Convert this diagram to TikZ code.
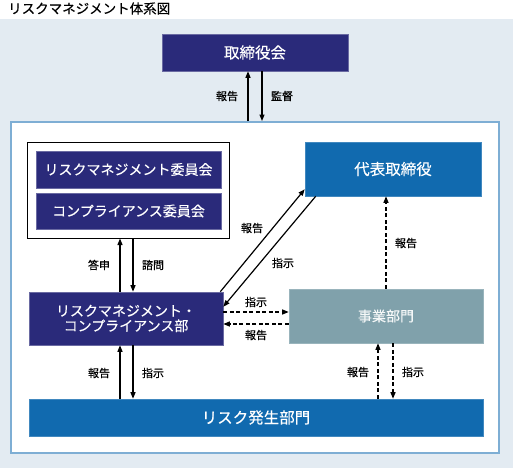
\documentclass[tikz,border=0pt]{standalone}
\usepackage{fontspec}
\setmainfont{Noto Sans CJK JP}
\newfontfamily\lblfont{Noto Sans CJK JP}[FakeBold=0.5]
\newfontfamily\boxfont{Noto Sans CJK JP}[FakeBold=0.25]
\usetikzlibrary{arrows.meta,calc}
\definecolor{bgc}{HTML}{E3EBF2}
\definecolor{framec}{HTML}{7EAED4}
\definecolor{navy}{HTML}{2A2A7A}
\definecolor{blu}{HTML}{116AAF}
\definecolor{teal}{HTML}{80A1AB}
\tikzset{
  box/.style={rectangle, inner sep=0pt, text=white, align=center},
  navybox/.style={box, fill=navy, draw=navy!70!white, line width=0.6pt},
  blubox/.style={box, fill=blu, draw=blu!80!white, line width=0.6pt},
  tealbox/.style={box, fill=teal, draw=teal!80!white, line width=0.6pt, text=white!92!teal},
  lbl/.style={font=\lblfont\fontsize{11}{12}\selectfont, text=black, inner sep=0pt},
  arr/.style={-{Triangle[length=6.5pt,width=5pt]}, line width=1.2pt, black},
  darr/.style={arr, dash pattern=on 4pt off 2.5pt}
}
\begin{document}
\begin{tikzpicture}[x=1pt,y=1pt]
\useasboundingbox (0,0) rectangle (513,-468);
\fill[white] (0,0) rectangle (513,-468);
\fill[bgc] (0,-19) rectangle (513,-468);
\node[anchor=west, inner sep=0pt, font=\boxfont\fontsize{13.5}{15}\selectfont] (title) at (8,-8.5) {リスクマネジメント体系図};

\node[rectangle, fill=white, draw=framec, line width=2pt, minimum width=488pt, minimum height=331pt, inner sep=0pt] (frame) at (255,-287.5) {};

\node[navybox, minimum width=186pt, minimum height=37pt, font=\boxfont\fontsize{15.5}{17}\selectfont] (board) at (255,-52.5) {取締役会};

\node[rectangle, fill=white, draw=black, line width=1pt, minimum width=202pt, minimum height=96pt, inner sep=0pt] (grp) at (128,-190) {};
\node[navybox, minimum width=185pt, minimum height=37pt, font=\boxfont\fontsize{14}{16}\selectfont] (rmc) at (128.5,-169.5) {リスクマネジメント委員会};
\node[navybox, minimum width=185pt, minimum height=36pt, font=\boxfont\fontsize{14}{16}\selectfont] (cc) at (128.5,-211) {コンプライアンス委員会};

\node[blubox, minimum width=176pt, minimum height=54pt, font=\boxfont\fontsize{15.5}{17}\selectfont] (rep) at (393,-169) {代表取締役};

\node[navybox, minimum width=194pt, minimum height=53pt, font=\boxfont\fontsize{14}{16}\selectfont] (rm) at (126,-318.5) {リスクマネジメント・\\[-1pt]コンプライアンス部};

\node[tealbox, minimum width=194pt, minimum height=54pt, font=\boxfont\fontsize{14}{16}\selectfont] (biz) at (386,-316) {事業部門};

\node[blubox, minimum width=454pt, minimum height=37pt, font=\boxfont\fontsize{15.5}{17}\selectfont] (risk) at (256,-417.5) {リスク発生部門};

% board <-> frame
\draw[arr] ([xshift=-7pt]board.south |- frame.north) -- ([xshift=-7pt]board.south);
\draw[arr] ([xshift=7pt]board.south) -- ([xshift=7pt]board.south |- frame.north);
\node[lbl] (l1) at (227,-96) {報告};
\node[lbl] (l2) at (282,-96) {監督};

% group <-> rm
\draw[arr] ([xshift=-6pt]rm.north) -- ([xshift=-6pt]rm.north |- grp.south);
\draw[arr] ([xshift=7pt]rm.north |- grp.south) -- ([xshift=7pt]rm.north);
\node[lbl] (l3) at (99,-265) {答申};
\node[lbl] (l4) at (153,-265) {諮問};

% rm <-> risk
\draw[arr] ([xshift=-6pt]rm.south |- risk.north) -- ([xshift=-6pt]rm.south);
\draw[arr] ([xshift=7pt]rm.south) -- ([xshift=7pt]rm.south |- risk.north);
\node[lbl] (l5) at (99,-373) {報告};
\node[lbl] (l6) at (153,-373) {指示};

% rm <-> rep diagonal
\draw[arr] ([xshift=-3pt]rm.north east) -- ([yshift=7pt]rep.south west);
\draw[arr] ([xshift=11pt]rep.south west) -- ([yshift=-15pt]rm.north east);
\node[lbl] (l7) at (252,-228) {報告};
\node[lbl] (l8) at (283,-263) {指示};

% rm <-> biz
\draw[darr] ([yshift=6.5pt]rm.east) -- ([yshift=6.5pt]rm.east -| biz.west);
\draw[darr] ([yshift=-5.5pt]rm.east -| biz.west) -- ([yshift=-5.5pt]rm.east);
\node[lbl] (l9) at (256,-302) {指示};
\node[lbl] (l10) at (256,-335) {報告};

% biz -> rep
\draw[darr] (biz.north) -- (biz.north |- rep.south);
\node[lbl] (l11) at (406,-243) {報告};

% biz <-> risk
\draw[darr] ([xshift=-8pt]biz.south |- risk.north) -- ([xshift=-8pt]biz.south);
\draw[darr] ([xshift=7pt]biz.south) -- ([xshift=7pt]biz.south |- risk.north);
\node[lbl] (l12) at (358,-372) {報告};
\node[lbl] (l13) at (413,-372) {指示};
\end{tikzpicture}
\end{document}
